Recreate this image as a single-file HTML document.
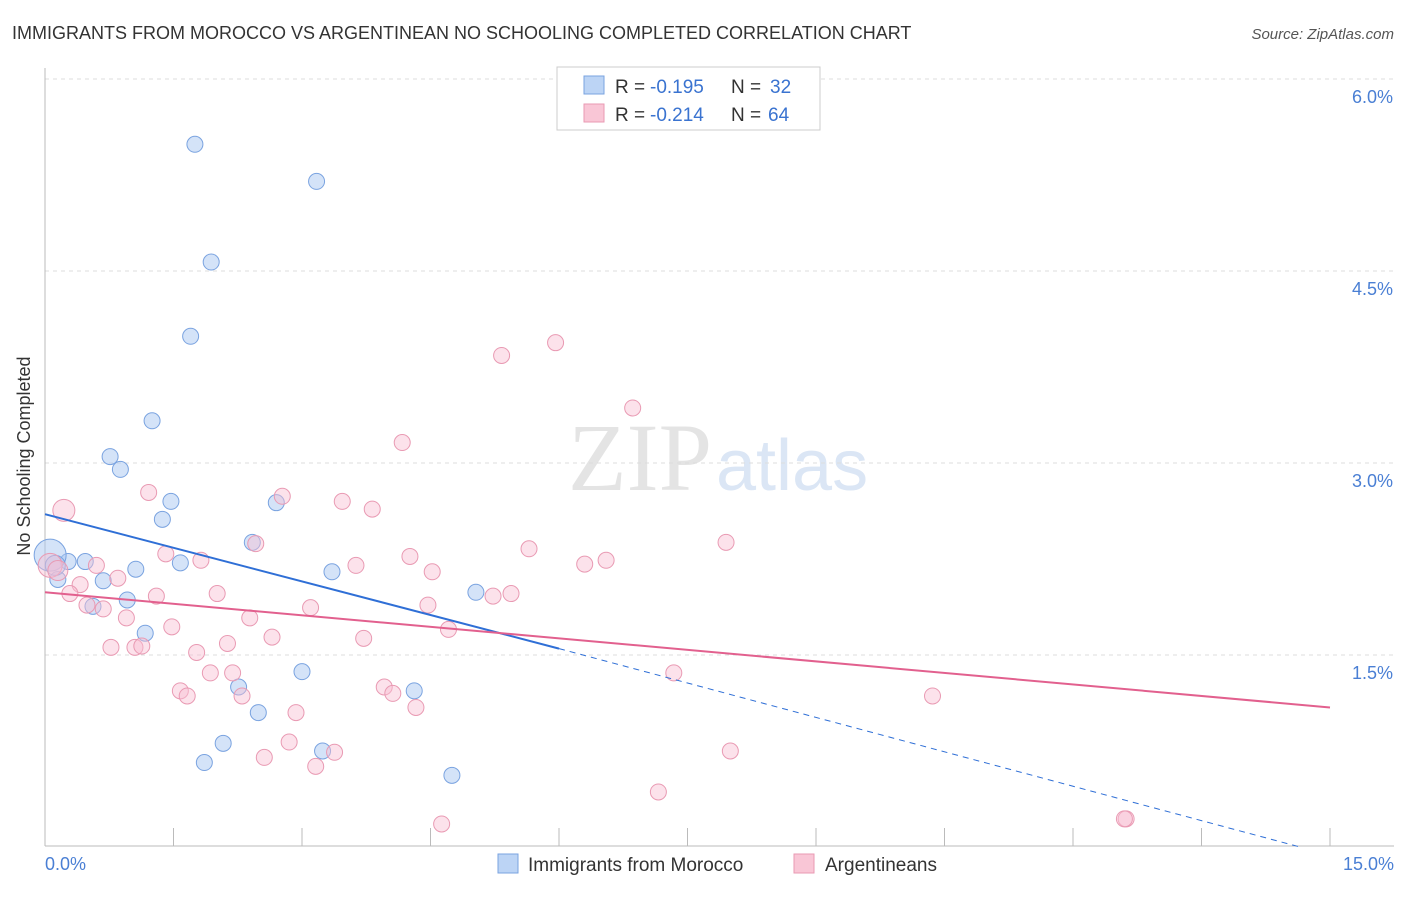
<!DOCTYPE html>
<html><head><meta charset="utf-8"><style>
body{margin:0;background:#fff;font-family:"Liberation Sans",sans-serif;}
</style></head><body>
<svg width="1406" height="892" xmlns="http://www.w3.org/2000/svg" font-family="Liberation Sans, sans-serif">
<text x="12" y="39" font-size="18" fill="#333">IMMIGRANTS FROM MOROCCO VS ARGENTINEAN NO SCHOOLING COMPLETED CORRELATION CHART</text>
<text x="1394" y="39" font-size="15" fill="#555" font-style="italic" text-anchor="end">Source: ZipAtlas.com</text>
<text x="712" y="490" font-size="96" fill="#e4e4e4" text-anchor="end" font-family="Liberation Serif, serif">ZIP</text>
<text x="716" y="490" font-size="72" fill="#dbe6f5">atlas</text>
<g id="grid"></g>
<line x1="45" y1="68" x2="45" y2="846" stroke="#bbb"/>
<line x1="45" y1="846" x2="1394" y2="846" stroke="#bbb"/>
<text x="30" y="456" font-size="18" fill="#333" text-anchor="middle" transform="rotate(-90 30 456)">No Schooling Completed</text>
<text x="45" y="870" font-size="18" fill="#4a7fd4">0.0%</text>
<text x="1394" y="870" font-size="18" fill="#4a7fd4" text-anchor="end">15.0%</text>
<g id="marks"></g>
<g>
<rect x="557" y="67" width="263" height="63" fill="#fff" stroke="#ccc"/>
<rect x="584" y="76" width="20" height="18" fill="#bcd4f5" stroke="#7aa3e0"/>
<rect x="584" y="104" width="20" height="18" fill="#f9c6d6" stroke="#e99ab3"/>
<text x="615" y="93" font-size="19" fill="#333">R =</text>
<text x="650" y="93" font-size="19" fill="#3a73d0">-0.195</text>
<text x="731" y="93" font-size="19" fill="#333">N =</text>
<text x="770" y="93" font-size="19" fill="#3a73d0">32</text>
<text x="615" y="121" font-size="19" fill="#333">R =</text>
<text x="650" y="121" font-size="19" fill="#3a73d0">-0.214</text>
<text x="731" y="121" font-size="19" fill="#333">N =</text>
<text x="768" y="121" font-size="19" fill="#3a73d0">64</text>
</g>
<g>
<rect x="498" y="854" width="20" height="19" fill="#bcd4f5" stroke="#7aa3e0"/>
<text x="528" y="871" font-size="19" fill="#333">Immigrants from Morocco</text>
<rect x="794" y="854" width="20" height="19" fill="#f9c6d6" stroke="#e99ab3"/>
<text x="825" y="871" font-size="19" fill="#333">Argentineans</text>
</g>
</svg>
<script>
const yTicks=[1.5,3.0,4.5,6.0];
const xTicks=[0,1.5,3,4.5,6,7.5,9,10.5,12,13.5,15];
const blueX=[1.75,3.17,1.94,1.7,1.25,0.76,0.88,1.47,1.37,2.7,2.42,1.06,1.58,3.35,0.68,0.47,0.27,0.15,0.96,0.56,1.17,5.03,3.0,2.26,4.31,2.49,2.08,3.24,1.86,4.75,0.06,0.12];
const blueY=[5.49,5.2,4.57,3.99,3.33,3.05,2.95,2.7,2.56,2.69,2.38,2.17,2.22,2.15,2.08,2.23,2.23,2.09,1.93,1.88,1.67,1.99,1.37,1.25,1.22,1.05,0.81,0.75,0.66,0.56,2.28,2.2];
const blueR=[8,8,8,8,8,8,8,8,8,8,8,8,8,8,8,8,8,8,8,8,8,8,8,8,8,8,8,8,8,8,16,10];
const pinkX=[0.22,5.33,5.96,6.86,4.17,1.21,2.77,3.47,3.82,7.95,2.46,5.65,1.41,1.82,4.26,6.3,6.55,3.63,4.52,0.6,0.85,0.41,1.3,2.01,5.23,5.44,3.1,4.47,0.29,0.49,0.68,0.95,2.39,1.48,4.71,2.65,3.72,2.13,0.77,1.05,1.13,1.77,2.19,1.93,7.34,1.58,1.66,2.3,3.96,4.06,4.33,2.93,10.36,2.56,2.85,3.38,3.16,8.0,7.16,4.63,12.62,12.6,0.06,0.15];
const pinkY=[2.63,3.84,3.94,3.43,3.16,2.77,2.74,2.7,2.64,2.38,2.37,2.33,2.29,2.24,2.27,2.21,2.24,2.2,2.15,2.2,2.1,2.05,1.96,1.98,1.96,1.98,1.87,1.89,1.98,1.89,1.86,1.79,1.79,1.72,1.7,1.64,1.63,1.59,1.56,1.56,1.57,1.52,1.36,1.36,1.36,1.22,1.18,1.18,1.25,1.2,1.09,1.05,1.18,0.7,0.82,0.74,0.63,0.75,0.43,0.18,0.22,0.22,2.2,2.16];
const pinkR=[11,8,8,8,8,8,8,8,8,8,8,8,8,8,8,8,8,8,8,8,8,8,8,8,8,8,8,8,8,8,8,8,8,8,8,8,8,8,8,8,8,8,8,8,8,8,8,8,8,8,8,8,8,8,8,8,8,8,8,8,8,8,12,10];
const blueTrend=[[0,2.6],[6,1.55],[14.65,0.0]];
const pinkTrend=[[0,1.99],[15,1.09]];
const NS="http://www.w3.org/2000/svg";
const sx=v=>45+v/15*1285;
const sy=v=>847-v*128;
function mk(tag,attrs,parent){const e=document.createElementNS(NS,tag);for(const k in attrs)e.setAttribute(k,attrs[k]);document.getElementById(parent).appendChild(e);return e;}
yTicks.forEach(t=>{
  const l=mk('line',{x1:45,x2:1394,y1:sy(t),y2:sy(t),stroke:'#ddd','stroke-dasharray':'4,4'},'grid');
  
  
  const tx=mk('text',{x:1393,y:sy(t)+24,'font-size':18,fill:'#4a7fd4','text-anchor':'end'},'grid');
  tx.textContent=t.toFixed(1)+'%';
  
  
});
xTicks.forEach(t=>{
  const l=mk('line',{x1:sx(t),x2:sx(t),y1:828,y2:846,stroke:'#bbb'},'grid');
  
  
});
blueX.forEach((x,i)=>{
  const c=mk('circle',{cx:sx(x),cy:sy(blueY[i]),r:blueR[i],fill:'rgba(170,199,242,0.5)',stroke:'#7aa3e0','stroke-width':1},'marks');
  
  
});
pinkX.forEach((x,i)=>{
  const c=mk('circle',{cx:sx(x),cy:sy(pinkY[i]),r:pinkR[i],fill:'rgba(248,190,210,0.45)',stroke:'#e99ab3','stroke-width':1},'marks');
  
  
});
let b=mk('line',{x1:sx(blueTrend[0][0]),y1:sy(blueTrend[0][1]),x2:sx(blueTrend[1][0]),y2:sy(blueTrend[1][1]),stroke:'#2f6fd6','stroke-width':2},'marks');


b=mk('line',{x1:sx(blueTrend[1][0]),y1:sy(blueTrend[1][1]),x2:sx(blueTrend[2][0]),y2:sy(blueTrend[2][1]),stroke:'#2f6fd6','stroke-width':1,'stroke-dasharray':'6,5'},'marks');


const p=mk('line',{x1:sx(pinkTrend[0][0]),y1:sy(pinkTrend[0][1]),x2:sx(pinkTrend[1][0]),y2:sy(pinkTrend[1][1]),stroke:'#e2608e','stroke-width':2},'marks');


</script>
</body></html>
